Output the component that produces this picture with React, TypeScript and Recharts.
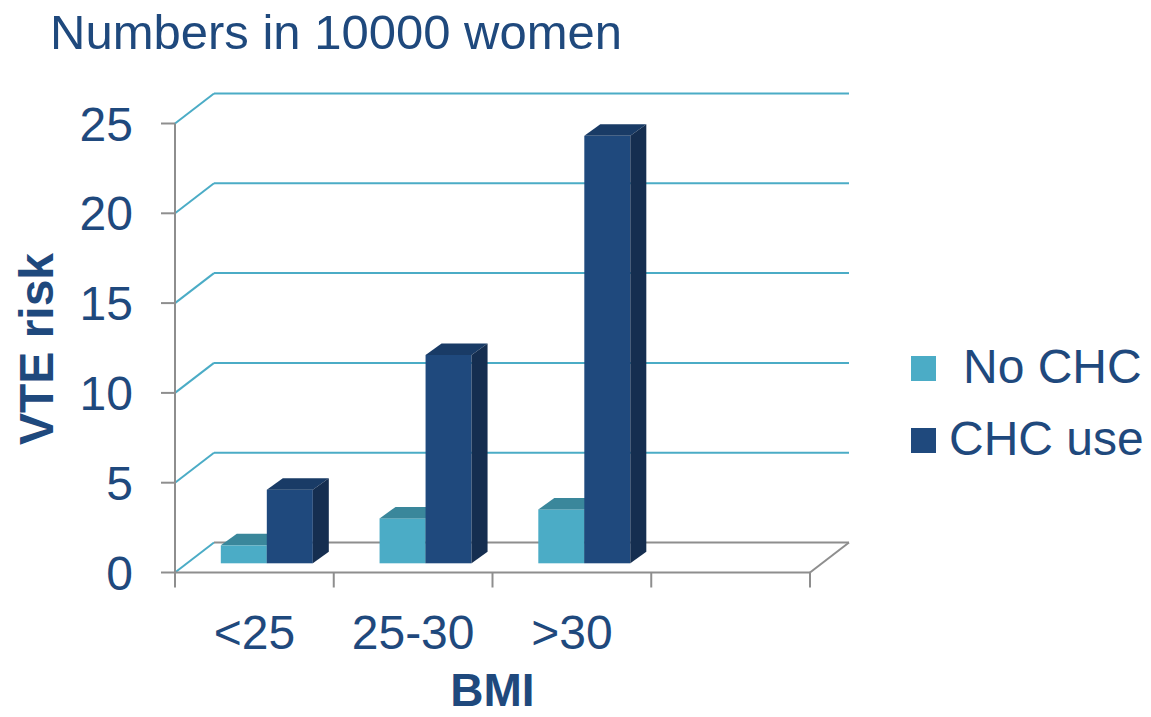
import React from 'react'
import { BarChart, Bar, XAxis, YAxis, CartesianGrid } from 'recharts'

const categories = ['<25', '25-30', '>30', '']
const noChcValues = [1, 2.5, 3, null]
const chcUseValues = [4.1, 11.6, 23.8, null]
const yTicks = [0, 5, 10, 15, 20, 25]
const seriesNames = ['No CHC', 'CHC use']

const NAVY = '#1F497D'
const TEAL = '#4BACC6'
const GRAY = '#8E8E8E'
const FONT = '"Liberation Sans", Arial, sans-serif'

const W = 1151
const H = 717
const PLOT_LEFT = 175
const PLOT_RIGHT = 810
const PLOT_TOP = 123.5
const PLOT_BOTTOM = 572.5
// depth of the 3d floor / wall
const DX = 39
const DY = 30
// bars sit in the middle of the floor
const BAR_SHIFT_X = 12
const BAR_SHIFT_Y = 9.2
const BAR_DX = 16
const BAR_DY = 11.5

const data = categories.map((bmi, i) => ({
  bmi,
  noChc: noChcValues[i],
  chcUse: chcUseValues[i]
}))

const Bar3D = (props: any) => {
  const { x, y, width, height, front, topColor, sideColor } = props
  if (height == null || height <= 0) return null
  const fx = x + BAR_SHIFT_X
  const fy = y - BAR_SHIFT_Y
  const fb = fy + height
  return (
    <g>
      <rect x={fx} y={fy} width={width} height={height} fill={front} />
      <polygon
        points={`${fx},${fy} ${fx + BAR_DX},${fy - BAR_DY} ${fx + width + BAR_DX},${fy - BAR_DY} ${fx + width},${fy}`}
        fill={topColor}
      />
      <polygon
        points={`${fx + width},${fy} ${fx + width + BAR_DX},${fy - BAR_DY} ${fx + width + BAR_DX},${fb - BAR_DY} ${fx + width},${fb}`}
        fill={sideColor}
      />
    </g>
  )
}

const gridLine = (props: any) => {
  const { x1, x2, y1, key } = props
  const isFloor = Math.abs(y1 - PLOT_BOTTOM) < 1
  return (
    <g key={key}>
      <line x1={x1} y1={y1} x2={x1 + DX} y2={y1 - DY} stroke={TEAL} strokeWidth={2} />
      <line x1={x1 + DX} y1={y1 - DY} x2={x2 + DX} y2={y1 - DY} stroke={isFloor ? GRAY : TEAL} strokeWidth={2} />
      {isFloor && <line x1={x2} y1={y1} x2={x2 + DX} y2={y1 - DY} stroke={GRAY} strokeWidth={2} />}
    </g>
  )
}

const XTick = (props: any) => {
  const { x, payload, index } = props
  const bw = (PLOT_RIGHT - PLOT_LEFT) / categories.length
  const left = x - bw / 2
  return (
    <g>
      <line x1={left} y1={PLOT_BOTTOM} x2={left} y2={PLOT_BOTTOM + 15} stroke={GRAY} strokeWidth={2} />
      {index === categories.length - 1 && (
        <line x1={x + bw / 2} y1={PLOT_BOTTOM} x2={x + bw / 2} y2={PLOT_BOTTOM + 15} stroke={GRAY} strokeWidth={2} />
      )}
      <text x={x} y={PLOT_BOTTOM + 76} textAnchor="middle" fill={NAVY} fontSize={48} fontFamily={FONT}>
        {payload.value}
      </text>
    </g>
  )
}

export default function App() {
  return (
    <div style={{ position: 'fixed', left: 0, top: 0, width: W, height: H, background: '#fff' }}>
      <BarChart
        width={W}
        height={H}
        data={data}
        margin={{ top: PLOT_TOP, right: W - PLOT_RIGHT, left: PLOT_LEFT - 60, bottom: H - PLOT_BOTTOM - 60 }}
        barCategoryGap="21.3%"
        barGap={0}
      >
        <CartesianGrid vertical={false} horizontal={gridLine} />
        <XAxis
          dataKey="bmi"
          height={60}
          interval={0}
          axisLine={{ stroke: GRAY, strokeWidth: 2 }}
          tickLine={false}
          tick={<XTick />}
        />
        <YAxis
          type="number"
          width={60}
          domain={[0, 25]}
          ticks={yTicks}
          axisLine={{ stroke: GRAY, strokeWidth: 2 }}
          tickLine={{ stroke: GRAY, strokeWidth: 2 }}
          tickSize={14}
          tickMargin={28}
          tick={{ fill: NAVY, fontSize: 48, fontFamily: FONT }}
        />
        <Bar
          dataKey="noChc"
          name={seriesNames[0]}
          fill={TEAL}
          isAnimationActive={false}
          shape={(p: any) => <Bar3D {...p} front={TEAL} topColor="#3A879B" sideColor="#347A8C" />}
        />
        <Bar
          dataKey="chcUse"
          name={seriesNames[1]}
          fill={NAVY}
          isAnimationActive={false}
          shape={(p: any) => <Bar3D {...p} front={NAVY} topColor="#193B66" sideColor="#152E50" />}
        />
      </BarChart>
      <svg width={W} height={H} style={{ position: 'absolute', left: 0, top: 0, pointerEvents: 'none' }}>
        <text x={50} y={49} fill={NAVY} fontSize={49} fontFamily={FONT}>
          Numbers in 10000 women
        </text>
        <text
          x={53}
          y={349}
          transform="rotate(-90, 53, 349)"
          textAnchor="middle"
          fill={NAVY}
          fontSize={48}
          fontWeight="bold"
          fontFamily={FONT}
        >
          VTE risk
        </text>
        <text x={492.5} y={706} textAnchor="middle" fill={NAVY} fontSize={46} fontWeight="bold" fontFamily={FONT}>
          BMI
        </text>
        <rect x={911} y={356} width={25} height={25} fill={TEAL} />
        <text x={963} y={383} fill={NAVY} fontSize={48} fontFamily={FONT}>
          {seriesNames[0]}
        </text>
        <rect x={911} y={428} width={25} height={25} fill={NAVY} />
        <text x={949} y={455} fill={NAVY} fontSize={48} fontFamily={FONT}>
          {seriesNames[1]}
        </text>
      </svg>
    </div>
  )
}
